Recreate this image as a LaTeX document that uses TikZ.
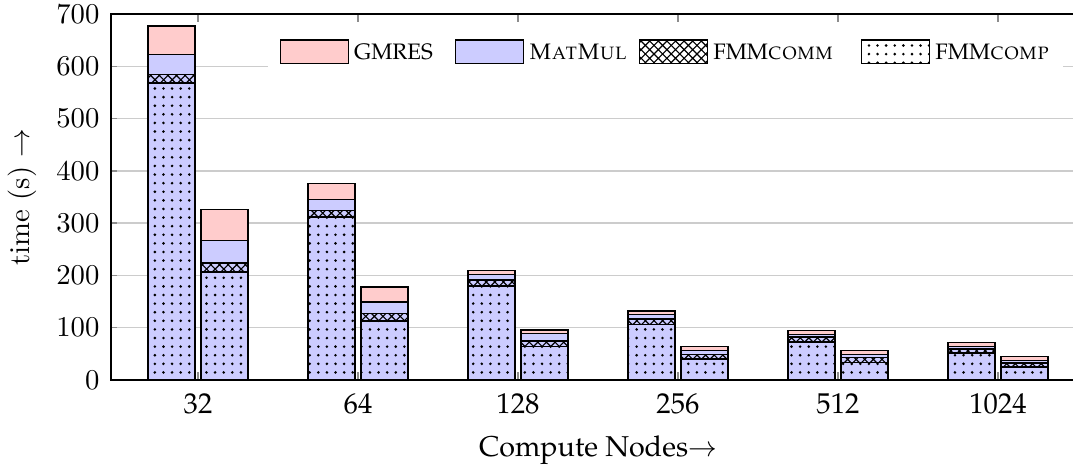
\documentclass[tikz,border=0pt]{standalone}
\usetikzlibrary{patterns,positioning}
\definecolor{gmpink}{RGB}{255,204,204}
\definecolor{matblue}{RGB}{204,204,255}
\newcommand\palfont{\fontencoding{T1}\fontfamily{ppl}\selectfont}
\tikzset{
  gridline/.style={black!20,line width=0.5pt},
  tickmark/.style={black!45,line width=0.5pt},
  barcomp/.style={draw=black,line width=0.5pt,preaction={fill=matblue},pattern=dots},
  barcomm/.style={draw=black,line width=0.5pt,preaction={fill=matblue},pattern=crosshatch},
  barmat/.style={draw=black,line width=0.5pt,fill=matblue},
  bargm/.style={draw=black,line width=0.5pt,fill=gmpink},
  legbox/.style={draw=black,line width=0.4pt,minimum width=0.833cm,minimum height=0.286cm,inner sep=0pt},
  legtext/.style={inner sep=0pt,font=\palfont\fontsize{7.8}{9}\selectfont}
}
\begin{document}
\begin{tikzpicture}[x=1.96086cm,y=0.0064078cm]
            \useasboundingbox (-0.2375,-166.4) rectangle (6.46875,726.8);
            % grid and ticks
            \foreach \v in {100,200,...,600}
                \draw[gridline] (0.45625,\v)--(6.46875,\v);
            \foreach \v in {100,200,...,600}
                \draw[tickmark] (0.45625,\v)--++(0.0375,0);
            \foreach \i in {1,...,6}{
                \draw[tickmark] (\i,0)--++(0,16);
                \draw[tickmark] (\i,700)--++(0,-16);
            }
            % stacked bars: FMMcomp, FMMcomm, MatMul, GMRES (cumulative tops)
            \foreach \xc/\ya/\yb/\yc/\yd in {0.8344/568/584/623/677, 1.1656/207/224/267/326,
                1.8344/312/324/345/376, 2.1656/113/127/149/178,
                2.8344/180/191/202/210, 3.1656/64/75/89/96,
                3.8344/106/117/125/132, 4.1656/40/49/57/64,
                4.8344/73/82/87/95, 5.1656/34/43/49/56,
                5.8344/52/59/64/72, 6.1656/25/33/37/45}{
                \draw[barcomp] (\xc-0.1469,0) rectangle (\xc+0.1469,\ya);
                \draw[barcomm] (\xc-0.1469,\ya) rectangle (\xc+0.1469,\yb);
                \draw[barmat] (\xc-0.1469,\yb) rectangle (\xc+0.1469,\yc);
                \draw[bargm] (\xc-0.1469,\yc) rectangle (\xc+0.1469,\yd);
            }
            % axes
            \draw[line width=0.5pt] (6.46875,700)--(0.45625,700)--(0.45625,0)--(6.46875,0);
            \foreach \v in {0,100,...,700}
                \node[anchor=east,inner sep=0pt] (yt\v) at (0.3875,\v) {\v};
            \foreach \n [count=\i] in {32,64,128,256,512,1024}
                \node[anchor=base,inner sep=0pt,font=\palfont] (xt\i) at (\i,-63.7) {\n};
            \node[anchor=base,inner sep=0pt] (xname) at (3.5,-145.4) {\palfont Compute Nodes$\rightarrow$};
            \node[rotate=90] (yname) at (-0.1,350) {time (s) $\rightarrow$};
            % legend
            \fill[white] (1.4375,585) rectangle (6.406,670);
            \node[legbox,fill=gmpink] (lgm) at (1.726,627.9) {};
            \node[legtext,right=0.06cm of lgm] (tgm) {GMRES};
            \node[legbox,fill=matblue] (lmat) at (2.821,627.9) {};
            \node[legtext,right=0.06cm of lmat] (tmat) {\textsc{MatMul}};
            \node[legbox,pattern=crosshatch] (lcomm) at (3.971,627.9) {};
            \node[legtext,right=0.06cm of lcomm] (tcomm) {FMM\textsc{comm}};
            \node[legbox,pattern=dots] (lcomp) at (5.359,627.9) {};
            \node[legtext,right=0.06cm of lcomp] (tcomp) {FMM\textsc{comp}};
        \end{tikzpicture}
\end{document}
